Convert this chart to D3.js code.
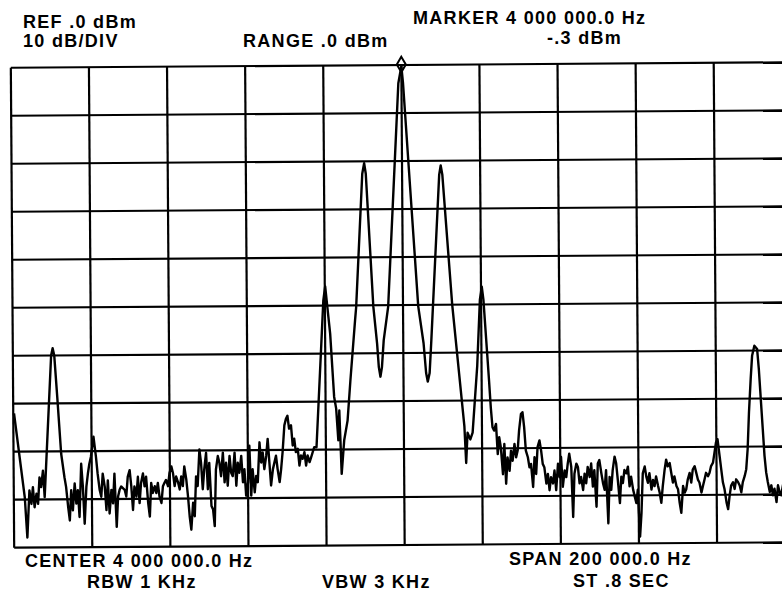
<!DOCTYPE html>
<html>
<head>
<meta charset="utf-8">
<script src="https://d3js.org/d3.v7.min.js"></script>
<style>
	body { margin: 0; background: #fff; }
	svg { display: block; }
	.lbl { font-family: "Liberation Sans", Arial, sans-serif; font-weight: bold; font-size: 18px; letter-spacing: 1.3px; fill: #000; }
</style>
</head>
<body>
<script>

// analyzer settings
var centerHz = 4000000;
var spanHz = 200000;
var refDbm = 0;
var dbPerDiv = 10;
var divisions = 10;
var markerKHz = 0;
var markerDbm = -0.3;

// header / footer texts
var refText = "REF .0 dBm";
var scaleText = "10 dB/DIV";
var rangeText = "RANGE .0 dBm";
var markerText = "MARKER 4 000 000.0 Hz";
var markerLevelText = "-.3 dBm";
var centerText = "CENTER 4 000 000.0 Hz";
var rbwText = "RBW 1 KHz";
var vbwText = "VBW 3 KHz";
var spanText = "SPAN 200 000.0 Hz";
var sweepText = "ST .8 SEC";

// trace: offset from center (kHz) and level (dBm)
var traceKHz = [-99.8,-97.2,-96.6,-96.0,-95.5,-95.1,-94.7,-94.2,-93.8,-93.4,-93.0,-92.5,-92.1,-91.7,
	-90.2,-89.8,-89.4,-88.7,-87.8,-87.0,-86.6,-86.1,-85.7,-85.3,-84.9,-84.4,-84.0,-83.6,-83.2,-82.7,
	-82.3,-81.9,-81.4,-81.0,-80.6,-80.2,-79.5,-78.9,-78.5,-78.0,-77.6,-77.2,-76.7,-76.3,-75.9,-75.5,
	-75.0,-74.6,-74.2,-73.7,-73.3,-72.9,-72.5,-71.6,-71.2,-70.8,-70.3,-69.9,-69.5,-69.1,-68.6,-68.2,
	-67.8,-67.4,-66.9,-66.5,-66.1,-65.6,-65.2,-64.8,-64.4,-63.9,-63.5,-63.1,-62.7,-62.2,-61.8,-61.4,
	-61.0,-60.5,-60.1,-59.6,-59.2,-58.8,-58.4,-57.9,-57.5,-57.1,-56.7,-56.3,-55.8,-55.4,-55.0,-54.6,
	-54.1,-53.7,-53.3,-52.9,-52.4,-52.0,-51.6,-51.2,-50.7,-50.3,-49.9,-49.4,-49.0,-48.6,-48.2,-47.7,
	-47.3,-46.9,-46.4,-46.0,-45.6,-45.2,-44.7,-44.3,-43.9,-43.4,-43.0,-42.6,-42.2,-41.7,-41.3,-40.9,
	-40.5,-40.0,-39.6,-39.2,-38.8,-38.3,-37.9,-37.5,-37.0,-36.6,-36.2,-35.8,-35.3,-34.9,-34.5,-34.1,
	-33.6,-33.2,-32.8,-32.4,-31.9,-31.5,-31.1,-30.6,-30.2,-29.8,-29.4,-28.9,-28.5,-28.1,-27.7,-27.2,
	-26.8,-26.4,-26.0,-25.5,-25.1,-24.7,-24.2,-23.8,-23.0,-22.4,
	-20.4,-19.9,-18.7,-17.8,-17.3,-16.8,-16.5,-16.0,-15.3,-14.4,-13.6,-12.3,-12.0,
	-10.2,-9.7,-9.3,-7.6,-6.7,-6.3,-5.9,-5.5,-5.0,-3.8,-0.8,0.0,0.4,3.9,5.2,5.8,6.2,6.7,7.2,
	9.5,9.9,10.3,12.6,15.5,15.9,16.3,17.0,17.6,18.9,19.7,20.2,20.6,21.4,
	21.9,22.3,22.7,23.1,23.6,24.0,24.4,24.8,25.3,25.7,26.1,26.5,27.0,27.4,27.8,28.3,28.7,29.1,29.5,
	30.0,30.4,30.8,31.2,31.7,32.1,32.5,33.0,33.4,33.8,34.2,34.7,35.1,35.5,35.9,36.4,36.8,37.2,37.6,
	38.1,38.5,38.9,39.4,39.8,40.2,40.6,41.1,41.5,41.9,42.3,42.8,43.2,43.6,44.1,44.5,44.9,45.3,45.8,
	46.2,46.6,47.0,47.5,47.9,48.3,48.7,49.2,49.6,50.0,50.5,50.9,51.3,51.7,52.2,52.6,53.0,53.4,53.9,
	54.3,54.7,55.2,55.6,56.0,56.4,56.9,57.3,57.7,58.1,58.6,59.0,59.4,59.8,60.3,60.7,61.1,61.6,62.0,
	62.4,62.8,63.3,63.7,64.1,64.5,65.0,65.4,65.8,66.2,66.7,67.1,67.5,68.0,68.4,68.8,69.2,69.7,70.1,
	70.5,70.9,71.4,71.8,72.2,72.6,73.1,73.5,73.9,74.4,74.8,75.2,75.6,76.1,76.5,76.9,77.3,77.8,78.2,
	78.6,79.1,79.5,79.9,80.3,80.8,81.2,81.6,82.0,82.5,82.9,83.3,83.7,84.2,84.6,85.0,85.5,85.9,86.3,
	86.7,87.2,87.6,88.0,88.4,88.9,89.3,89.9,90.6,91.0,91.4,91.9,92.3,92.7,93.1,93.6,94.0,94.4,94.8,
	95.3,95.7,96.1,96.5,97.0,97.5];

var traceDbm = [-72.0,-89.5,-97.9,-88.1,-90.9,-87.4,-91.6,-88.8,-90.9,-85.4,-87.4,-84.0,-89.5,-83.3,
	-60.0,-58.5,-60.0,-68.7,-80.5,-85.4,-87.4,-91.6,-94.4,-88.1,-92.3,-86.7,-90.9,-88.1,-93.7,-82.6,
	-87.4,-95.1,-87.4,-84.7,-82.6,-81.2,-77.0,-81.2,-84.7,-88.1,-89.5,-84.7,-87.4,-92.3,-86.1,-93.0,
	-88.1,-90.9,-84.7,-95.8,-89.5,-88.1,-87.4,-88.1,-89.5,-85.4,-84.0,-87.4,-92.3,-87.4,-89.5,-85.4,
	-90.9,-86.7,-84.7,-87.4,-85.4,-90.9,-93.7,-86.7,-88.8,-87.4,-88.8,-86.7,-89.5,-90.9,-87.4,-86.7,
	-86.1,-87.4,-84.7,-83.3,-84.7,-87.4,-85.4,-86.7,-88.1,-85.4,-87.4,-83.3,-86.1,-89.5,-93.7,-96.5,
	-90.9,-93.7,-85.4,-87.4,-79.8,-82.6,-88.1,-84.0,-80.5,-88.1,-82.6,-91.6,-92.3,-95.8,-84.0,-81.2,
	-82.6,-85.4,-80.5,-86.7,-82.6,-87.4,-81.2,-84.7,-85.4,-80.5,-87.4,-82.6,-84.7,-81.2,-86.7,-84.0,
	-89.5,-86.7,-79.1,-89.5,-84.0,-88.8,-85.4,-86.7,-78.4,-82.6,-80.5,-84.0,-81.2,-77.7,-82.6,-87.4,
	-84.0,-82.6,-81.2,-84.0,-86.7,-84.0,-80.5,-74.9,-73.6,-72.9,-75.6,-74.9,-79.1,-77.7,-80.5,-79.8,
	-83.3,-81.2,-81.9,-80.5,-83.3,-81.2,-82.6,-81.6,-79.5,-79.5,
	-49.0,-46.0,-55.9,-69.0,-71.5,-78.1,-71.9,-85.1,-78.1,-74.0,-65.6,-53.1,-50.4,
	-22.6,-20.4,-22.6,-50.3,-58.0,-62.9,-64.9,-62.9,-57.3,-50.3,-3.8,-0.3,-3.8,-50.3,-58.0,-64.2,-66.0,-64.2,-57.3,
	-22.9,-21.0,-22.9,-50.0,-75.3,-83.0,-76.7,-78.1,-76.7,-62.8,-49.0,-46.3,-49.0,-59.4,
	-65.9,-71.5,-75.6,-76.3,-74.9,-81.2,-77.7,-79.8,-85.4,-79.1,-87.4,-81.9,-84.7,-80.5,-82.6,-79.1,-81.9,-80.5,-76.3,
	-72.9,-72.5,-75.6,-80.5,-81.9,-84.0,-83.3,-88.1,-81.9,-85.4,-79.8,-78.4,-80.5,-83.3,-84.0,-87.4,-85.4,-88.8,-86.1,
	-87.4,-84.7,-88.8,-83.3,-86.1,-81.9,-88.1,-84.7,-86.1,-83.3,-81.2,-84.0,-94.4,-85.4,-83.3,-84.0,-87.4,-86.1,-88.8,
	-85.4,-87.4,-84.0,-86.1,-83.3,-88.1,-84.7,-92.3,-83.3,-82.6,-85.4,-87.4,-88.8,-84.7,-95.8,-86.1,-88.8,-84.7,-81.9,
	-83.3,-86.8,-91.6,-86.1,-87.4,-84.7,-85.4,-84.0,-88.1,-86.1,-88.8,-90.2,-91.6,-88.8,-98.6,-93.7,-85.4,-84.0,-86.1,
	-87.4,-85.4,-88.8,-86.8,-88.1,-86.1,-88.1,-89.5,-91.6,-88.1,-84.7,-82.6,-84.0,-83.3,-85.4,-87.4,-86.1,-88.1,-88.8,
	-91.6,-93.7,-88.1,-89.5,-88.8,-86.8,-85.4,-87.4,-84.7,-84.0,-85.4,-86.8,-87.4,-89.5,-88.1,-86.8,-85.4,-86.1,-85.4,
	-84.0,-83.3,-81.2,-79.1,-78.4,-81.9,-84.7,-87.4,-88.8,-91.6,-93.0,-90.2,-88.1,-87.4,-88.8,-86.8,-87.4,-88.1,-89.5,
	-87.4,-86.1,-84.7,-80.5,-72.9,-65.9,-61.1,-59.0,-59.7,-63.8,-69.4,-76.3,-81.9,-85.4,-87.4,-89.5,-88.1,-90.2,-88.8,
	-91.6,-88.1,-89.5,-90.2,-88.0,-90.0];

window.onload = function() {
	drawScreen();
};

function drawScreen() {

	var width = 782, height = 595;

	// screen area (before the slight tilt of the scan)
	var plot = {left: 12.5, top: 65, width: 781, height: 480};

	var svg = d3.select("body")
		.append("svg")
		.attr("width", width)
		.attr("height", height);

	// scales: frequency across, level down
	var xScale = d3.scaleLinear()
		.domain([centerHz - spanHz / 2, centerHz + spanHz / 2])
		.range([0, plot.width]);

	var yScale = d3.scaleLinear()
		.domain([refDbm - dbPerDiv * divisions, refDbm])
		.range([plot.height, 0]);

	// the scanned screen is tilted a little
	var g = svg.append("g")
		.attr("transform", "rotate(-0.4, 403, 305) translate(" + plot.left + "," + plot.top + ")");

	// graticule
	var freqLines = d3.range(divisions + 1).map(function(i) {
		return centerHz - spanHz / 2 + i * spanHz / divisions;
	});
	var levelLines = d3.range(divisions + 1).map(function(i) {
		return refDbm - i * dbPerDiv;
	});

	g.selectAll(".vline")
		.data(freqLines)
		.enter().append("line")
		.attr("x1", function(d) { return xScale(d); })
		.attr("x2", function(d) { return xScale(d); })
		.attr("y1", 0)
		.attr("y2", plot.height)
		.attr("stroke", "#000")
		.attr("stroke-width", 2.2);

	g.selectAll(".hline")
		.data(levelLines)
		.enter().append("line")
		.attr("x1", 0)
		.attr("x2", plot.width)
		.attr("y1", function(d) { return yScale(d); })
		.attr("y2", function(d) { return yScale(d); })
		.attr("stroke", "#000")
		.attr("stroke-width", 2.2);

	// trace
	var trace = traceKHz.map(function(k, i) {
		return {hz: centerHz + k * 1000, dbm: traceDbm[i]};
	});

	var line = d3.line()
		.x(function(d) { return xScale(d.hz); })
		.y(function(d) { return yScale(d.dbm); });

	g.append("path")
		.datum(trace)
		.attr("d", line)
		.attr("fill", "none")
		.attr("stroke", "#000")
		.attr("stroke-width", 2.4)
		.attr("stroke-linejoin", "round");

	// marker on the carrier
	g.append("path")
		.attr("d", d3.symbol().type(d3.symbolDiamond).size(70))
		.attr("transform", "translate(" + xScale(centerHz + markerKHz * 1000) + "," + (yScale(markerDbm) - 2) + ")")
		.attr("fill", "none")
		.attr("stroke", "#000")
		.attr("stroke-width", 2);

	// screen annotations
	function addLabel(txt, x, y) {
		svg.append("text")
			.attr("class", "lbl")
			.attr("x", x)
			.attr("y", y)
			.text(txt);
	}

	addLabel(refText, 23, 28);
	addLabel(scaleText, 23, 47);
	addLabel(rangeText, 243, 47);
	addLabel(markerText, 413, 24);
	addLabel(markerLevelText, 547, 44);
	addLabel(centerText, 25, 567);
	addLabel(rbwText, 87, 588);
	addLabel(vbwText, 322, 588);
	addLabel(spanText, 509, 565);
	addLabel(sweepText, 573, 587);
}

</script>
</body>
</html>
